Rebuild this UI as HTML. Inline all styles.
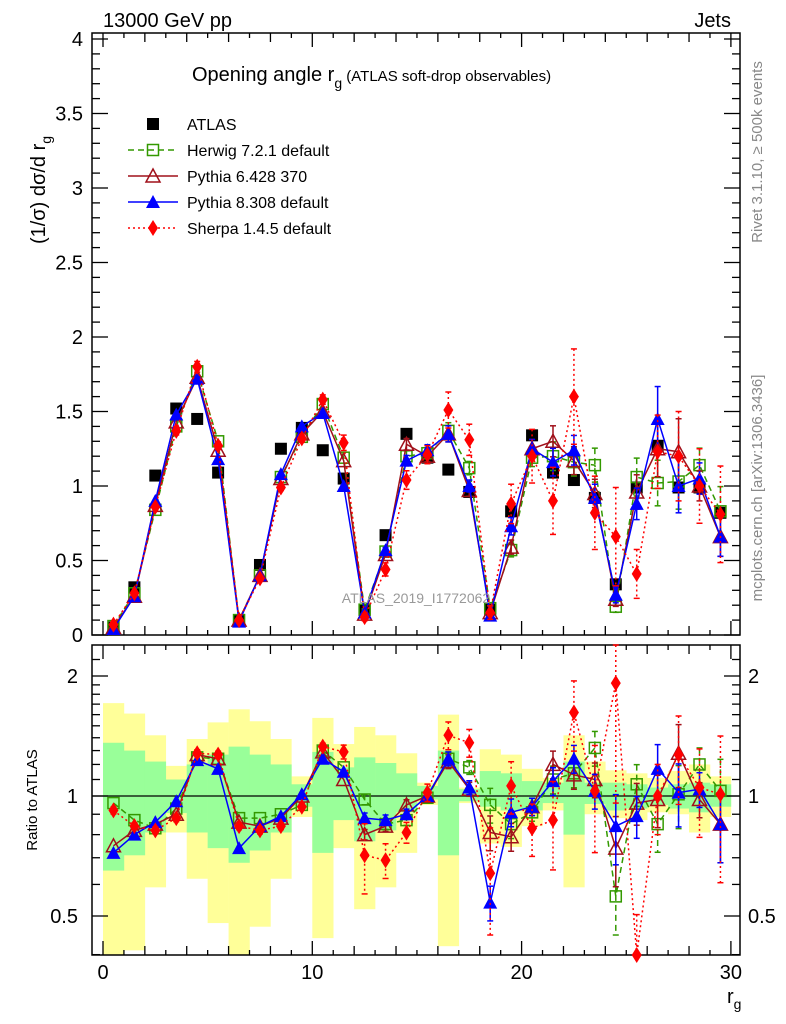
<!DOCTYPE html>
<html><head><meta charset="utf-8">
<style>
html,body{margin:0;padding:0;background:#fff;}
svg{display:block;font-family:"Liberation Sans",sans-serif;}
</style></head>
<body>
<svg id="c" width="786" height="1024" viewBox="0 0 786 1024" xmlns="http://www.w3.org/2000/svg">
<g id="gbot"></g><g id="gtop"></g><g id="gleg"></g>
<text x="103" y="27" font-size="20">13000 GeV pp</text>
<text x="731" y="27" font-size="20" text-anchor="end">Jets</text>
<text x="192" y="81" font-size="20">Opening angle r<tspan font-size="14" dy="7">g</tspan><tspan font-size="15" dy="-7"> (ATLAS soft-drop observables)</tspan></text>
<text transform="translate(45,190) rotate(-90)" font-size="20" text-anchor="middle">(1/σ) dσ/d r<tspan font-size="14" dy="6">g</tspan></text>
<text transform="translate(762,152) rotate(-90)" font-size="15" fill="#888" text-anchor="middle">Rivet 3.1.10, ≥ 500k events</text>
<text transform="translate(762,488) rotate(-90)" font-size="15" fill="#888" text-anchor="middle">mcplots.cern.ch [arXiv:1306.3436]</text>
<text x="416" y="603" font-size="14" fill="#999" text-anchor="middle">ATLAS_2019_I1772062</text>
<text transform="translate(37,800) rotate(-90)" font-size="15" text-anchor="middle">Ratio to ATLAS</text>
<text x="727" y="1003" font-size="20">r<tspan font-size="14" dy="6">g</tspan></text>
</svg>
<script>
const bins=[0.5,1.5,2.5,3.5,4.5,5.5,6.5,7.5,8.5,9.5,10.5,11.5,12.5,13.5,14.5,15.5,16.5,17.5,18.5,19.5,20.5,21.5,22.5,23.5,24.5,25.5,26.5,27.5,28.5,29.5];
const atlas=[0.05,0.32,1.07,1.52,1.45,1.09,0.10,0.47,1.25,1.39,1.24,1.05,0.17,0.67,1.35,1.19,1.11,0.96,0.17,0.83,1.34,1.09,1.04,0.92,0.34,0.99,1.27,0.99,0.99,0.82];
const herwig=[0.06,0.28,0.84,1.40,1.77,1.30,0.10,0.40,1.06,1.33,1.55,1.19,0.17,0.56,1.20,1.22,1.37,1.12,0.18,0.57,1.19,1.20,1.16,1.14,0.19,1.06,1.02,1.03,1.14,0.83];
const pythia6=[0.05,0.26,0.87,1.43,1.73,1.24,0.10,0.40,1.05,1.35,1.50,1.17,0.14,0.54,1.28,1.20,1.35,0.97,0.15,0.59,1.25,1.30,1.17,0.95,0.24,0.96,1.25,1.23,1.00,0.66];
const pythia8=[0.04,0.26,0.90,1.48,1.72,1.18,0.09,0.40,1.08,1.40,1.49,1.00,0.15,0.57,1.17,1.24,1.35,1.00,0.13,0.73,1.25,1.16,1.24,0.92,0.27,0.88,1.45,1.00,1.05,0.66];
const sherpa=[0.07,0.28,0.86,1.37,1.80,1.27,0.10,0.38,0.99,1.32,1.58,1.29,0.12,0.44,1.04,1.21,1.51,1.31,0.15,0.88,1.20,0.90,1.60,0.82,0.66,0.41,1.23,1.20,1.00,0.81];
const rHerwig=[0.96,0.87,0.83,0.93,1.25,1.24,0.88,0.88,0.90,0.95,1.30,1.18,0.98,0.85,0.87,0.99,1.24,1.18,0.95,0.85,0.91,1.10,1.14,1.32,0.56,1.07,0.85,1.01,1.20,1.03];
const rPythia6=[0.75,0.82,0.85,0.90,1.27,1.24,0.86,0.84,0.88,1.00,1.29,1.10,0.80,0.84,0.95,1.00,1.22,1.04,0.81,0.79,0.94,1.20,1.13,1.10,0.74,0.96,0.98,1.28,0.98,0.85];
const rPythia8=[0.72,0.80,0.86,0.97,1.23,1.17,0.74,0.84,0.89,1.01,1.24,1.15,0.88,0.87,0.90,1.00,1.24,1.05,0.54,0.91,0.94,1.09,1.24,1.03,0.84,0.89,1.17,1.02,1.04,0.85];
const rSherpa=[0.92,0.84,0.82,0.88,1.28,1.27,0.84,0.82,0.84,0.94,1.33,1.29,0.71,0.69,0.81,1.02,1.42,1.36,0.64,1.06,0.83,0.87,1.62,1.03,1.92,0.36,1.00,1.27,1.05,1.01];
const errMC=[0,0,0,0,0,0,0,0,0,0,0,0,0.03,0.03,0.03,0.03,0.04,0.04,0.1,0.08,0.05,0.08,0.08,0.1,0.2,0.12,0.15,0.18,0.1,0.2];
const errSherpa=[0.02,0.02,0.02,0.02,0.02,0.02,0.02,0.02,0.02,0.02,0.02,0.04,0.2,0.1,0.06,0.05,0.08,0.08,0.3,0.15,0.15,0.25,0.2,0.3,0.5,0.4,0.2,0.25,0.25,0.4];
const yellowHi=[1.71,1.61,1.42,1.19,1.39,1.53,1.65,1.54,1.39,1.12,1.57,1.35,1.49,1.42,1.28,1.08,1.60,1.05,1.31,1.27,1.17,1.11,1.42,1.22,1.16,1.14,1.11,1.155,1.20,1.12];
const yellowLo=[0.40,0.41,0.59,0.81,0.62,0.48,0.40,0.47,0.62,0.886,0.44,0.74,0.52,0.59,0.72,0.95,0.42,0.96,0.76,0.745,0.84,0.92,0.59,0.90,0.88,0.87,0.91,0.90,0.81,0.886];
const greenHi=[1.36,1.30,1.22,1.10,1.20,1.27,1.33,1.27,1.20,1.07,1.29,1.18,1.25,1.21,1.14,1.06,1.30,1.04,1.155,1.14,1.09,1.08,1.22,1.08,1.08,1.07,1.05,1.07,1.08,1.07];
const greenLo=[0.65,0.71,0.81,0.906,0.81,0.74,0.68,0.73,0.81,0.94,0.72,0.87,0.77,0.82,0.91,0.98,0.71,0.97,0.94,0.92,0.92,0.96,0.80,0.955,0.92,0.93,0.95,0.93,0.91,0.94];
const xTicks=[0,10,20,30];
const yTicks=[0,0.5,1,1.5,2,2.5,3,3.5,4];
const yTickLabels=["0","0.5","1","1.5","2","2.5","3","3.5","4"];
const rTicks=[0.5,1,2];
const rTickLabels=["0.5","1","2"];

const NS="http://www.w3.org/2000/svg";
const L=92,R=740,T1=33,B1=635,T2=645,B2=955;
const X=v=>103+v*20.93;
const Y=v=>635-v*149;
const RY=v=>{let y=796-120*Math.log2(v);return Math.max(T2,Math.min(B2,y));};
function mk(p,tag,a){const e=document.createElementNS(NS,tag);for(const k in a)e.setAttribute(k,a[k]);p.appendChild(e);return e;}
const gTop=document.getElementById('gtop'),gBot=document.getElementById('gbot'),gLeg=document.getElementById('gleg');

bins.forEach((b,i)=>{
  let r=mk(gBot,'rect',{x:X(b-0.5),y:RY(yellowHi[i]),width:21.2,height:RY(yellowLo[i])-RY(yellowHi[i]),fill:'#ffff99'});
  
  
});
bins.forEach((b,i)=>{
  let r=mk(gBot,'rect',{x:X(b-0.5),y:RY(greenHi[i]),width:21.2,height:RY(greenLo[i])-RY(greenHi[i]),fill:'#99ff99'});
  
  
});
let one=mk(gBot,'line',{x1:L,x2:R,y1:RY(1),y2:RY(1),stroke:'#000','stroke-width':1.3});



[[T1,B1],[T2,B2]].forEach(([t,b],k)=>{
  let f=mk(k?gBot:gTop,'rect',{x:L,y:t,width:R-L,height:b-t,fill:'none',stroke:'#000','stroke-width':1.5});
  
  
});
for(let v=0;v<=30;v++){
  const len=v%10===0?14:(v%2===0?9:5);
  [[B1,-1],[T1,1],[B2,-1],[T2,1]].forEach(([y,d])=>mk(gTop,'line',{x1:X(v),x2:X(v),y1:y,y2:y+d*len,stroke:'#000','stroke-width':1.3}));
}
xTicks.forEach(v=>{let t=mk(gBot,'text',{x:X(v),y:979,'font-size':20,'text-anchor':'middle'});t.textContent=v;
  
  });
for(let k=0;k<=40;k++){const v=k/10,len=k%5===0?16:8;
  mk(gTop,'line',{x1:L,x2:L+len,y1:Y(v),y2:Y(v),stroke:'#000','stroke-width':1.3});
  mk(gTop,'line',{x1:R,x2:R-len,y1:Y(v),y2:Y(v),stroke:'#000','stroke-width':1.3});}
yTicks.forEach((v,i)=>{let t=mk(gTop,'text',{x:83,y:Y(v)+7,'font-size':20,'text-anchor':'end'});t.textContent=yTickLabels[i];
  
  });
[0.4,0.5,0.6,0.7,0.8,0.9,1,1.1,1.2,1.3,1.4,1.5,1.6,1.7,1.8,1.9,2,2.2].forEach(v=>{
  const len=rTicks.includes(v)?16:8;
  mk(gBot,'line',{x1:L,x2:L+len,y1:RY(v),y2:RY(v),stroke:'#000','stroke-width':1.3});
  mk(gBot,'line',{x1:R,x2:R-len,y1:RY(v),y2:RY(v),stroke:'#000','stroke-width':1.3});});
rTicks.forEach((v,i)=>{
  let t=mk(gBot,'text',{x:78,y:RY(v)+7,'font-size':20,'text-anchor':'end'});t.textContent=rTickLabels[i];
  
  
  let t2=mk(gBot,'text',{x:748,y:RY(v)+7,'font-size':20});t2.textContent=rTickLabels[i];
  
  });

function marker(g,kind,x,y,col){
  if(kind==='sq') mk(g,'rect',{x:x-6,y:y-6,width:12,height:12,fill:'#000'});
  else if(kind==='osq') mk(g,'rect',{x:x-5.5,y:y-5.5,width:11,height:11,fill:'none',stroke:col,'stroke-width':1.5});
  else if(kind==='otri') mk(g,'polygon',{points:`${x},${y-7} ${x-7},${y+6} ${x+7},${y+6}`,fill:'none',stroke:col,'stroke-width':1.5});
  else if(kind==='tri') mk(g,'polygon',{points:`${x},${y-7} ${x-7},${y+6} ${x+7},${y+6}`,fill:col});
  else if(kind==='dia') mk(g,'polygon',{points:`${x},${y-8} ${x-5},${y} ${x},${y+8} ${x+5},${y}`,fill:col});
}
const series=[
 {name:'herwig',vals:herwig,ratio:rHerwig,err:errMC,col:'#339900',dash:'6,4',kind:'osq'},
 {name:'pythia6',vals:pythia6,ratio:rPythia6,err:errMC,col:'#a0101a',dash:'',kind:'otri'},
 {name:'pythia8',vals:pythia8,ratio:rPythia8,err:errMC,col:'#0000ff',dash:'',kind:'tri'},
 {name:'sherpa',vals:sherpa,ratio:rSherpa,err:errSherpa,col:'#ff0000',dash:'2,3',kind:'dia'}
];
let ag=mk(gTop,'g',{});


bins.forEach((b,i)=>marker(ag,'sq',X(b),Y(atlas[i])));
function drawSeries(parent,s,vals,Yf){
  let g=mk(parent,'g',{});
  
  
  const pts=bins.map((b,i)=>X(b)+','+Yf(vals[i])).join(' ');
  let a={points:pts,fill:'none',stroke:s.col,'stroke-width':1.5};
  if(s.dash)a['stroke-dasharray']=s.dash;
  mk(g,'polyline',a);
  bins.forEach((b,i)=>{
    const e=s.err[i]*vals[i];
    if(e>0){const y1=Yf(vals[i]+e),y2=Yf(Math.max(vals[i]-e,0.01));
      let la={x1:X(b),x2:X(b),y1:y1,y2:y2,stroke:s.col,'stroke-width':1.5};if(s.dash)la['stroke-dasharray']=s.dash;
      mk(g,'line',la);
      mk(g,'line',{x1:X(b)-3,x2:X(b)+3,y1:y1,y2:y1,stroke:s.col,'stroke-width':1.5});
      mk(g,'line',{x1:X(b)-3,x2:X(b)+3,y1:y2,y2:y2,stroke:s.col,'stroke-width':1.5});}
    marker(g,s.kind,X(b),Yf(vals[i]),s.col);
  });
}
series.forEach(s=>drawSeries(gTop,s,s.vals,Y));
series.forEach(s=>drawSeries(gBot,s,s.ratio,RY));

const legNames=['ATLAS','Herwig 7.2.1 default','Pythia 6.428 370','Pythia 8.308 default','Sherpa 1.4.5 default'];
legNames.forEach((n,i)=>{
  const y=124+26*i;
  let g=mk(gLeg,'g',{});
  
  
  if(i===0) marker(g,'sq',153,y);
  else{const s=series[i-1];let a={x1:128,x2:178,y1:y,y2:y,stroke:s.col,'stroke-width':1.5};if(s.dash)a['stroke-dasharray']=s.dash;mk(g,'line',a);marker(g,s.kind,153,y,s.col);}
  let t=mk(g,'text',{x:187,y:y+6,'font-size':16});t.textContent=n;
});
</script>
</body></html>
